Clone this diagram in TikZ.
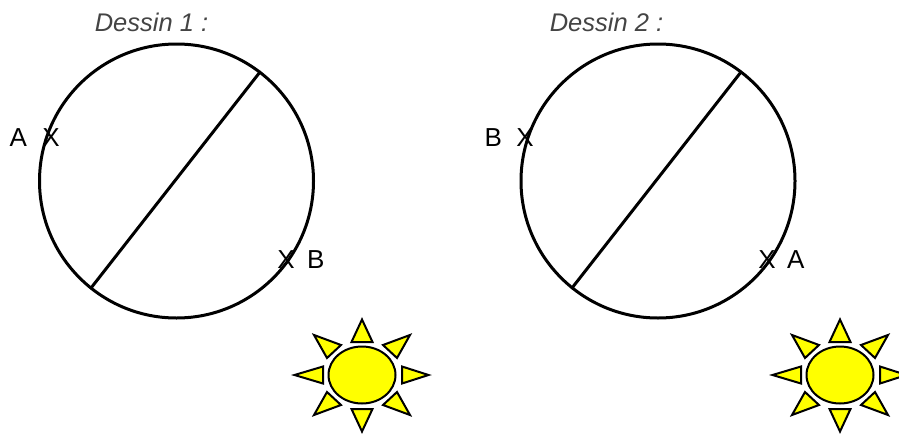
\documentclass[tikz,border=0pt]{standalone}
\usepackage{fontspec}
\setmainfont{Liberation Sans}
\usepackage{xcolor}
\definecolor{sunyellow}{HTML}{FFFF00}
\definecolor{titlegray}{HTML}{444444}
\usetikzlibrary{positioning}
\tikzset{
  every picture/.style={line cap=round, line join=round},
  disc/.style={black, line width=3pt},
  lbl/.style={font=\fontsize{26}{26}\selectfont, text=black, inner sep=0pt},
  crossmark/.style={font=\fontsize{26}{26}\selectfont, text=black, inner sep=0pt},
  titlelbl/.style={font=\itshape\fontsize{25.5}{26}\selectfont, text=titlegray, inner sep=0pt},
  ray/.style={fill=sunyellow, draw=black, line width=2pt, line join=miter},
}
\begin{document}
\begin{tikzpicture}[x=1pt, y=-1pt]
\useasboundingbox (0,0) rectangle (899,434);
\clip (0,0) rectangle (899,434);
% a sun: #1 = centre
\newcommand{\sunshape}[1]{%
  \begin{scope}[shift={#1}]
  \filldraw[ray] (0,0) ellipse [x radius=33.5, y radius=28.5];
  \filldraw[ray] (0,-55.5) -- (10.5,-33) -- (-10.5,-33) -- cycle;
  \filldraw[ray] (0,56.5) -- (10.5,34) -- (-10.5,34) -- cycle;
  \filldraw[ray] (66.5,0) -- (40,-8.5) -- (40,8.5) -- cycle;
  \filldraw[ray] (-67.5,0) -- (-39,-8.5) -- (-39,8.5) -- cycle;
  \filldraw[ray] (-48,-40) -- (-21,-30) -- (-35,-17) -- cycle;
  \filldraw[ray] (48,-40) -- (21,-30) -- (35,-17) -- cycle;
  \filldraw[ray] (-48,40) -- (-21,30) -- (-35,17) -- cycle;
  \filldraw[ray] (48,40) -- (21,30) -- (35,17) -- cycle;
  \end{scope}}

% ------------------------------------------------------------------ Dessin 1
\node[titlelbl] (title1) at (151.5,22) {Dessin 1 :};
\draw[disc] (176.5,181) circle (137);
\coordinate (chord1a) at (260,72);
\coordinate (chord1b) at (91,288);
\draw[disc] (chord1a) -- (chord1b);
\node[crossmark] (x1a) at (51,138) {X};
\node[lbl, left=15pt of x1a] (a1) {A};
\node[crossmark] (x1b) at (286,260) {X};
\node[lbl, right=12pt of x1b] (b1) {B};
\sunshape{(362,375)}

% ------------------------------------------------------------------ Dessin 2
\node[titlelbl] (title2) at (606.5,22) {Dessin 2 :};
\draw[disc] (658,181) circle (137);
\coordinate (chord2a) at (741,72);
\coordinate (chord2b) at (572,288);
\draw[disc] (chord2a) -- (chord2b);
\node[crossmark] (x2b) at (525,138) {X};
\node[lbl, left=14pt of x2b] (b2) {B};
\node[crossmark] (x2a) at (767,260) {X};
\node[lbl, right=11pt of x2a] (a2) {A};
\sunshape{(840,375)}
\end{tikzpicture}
\end{document}
